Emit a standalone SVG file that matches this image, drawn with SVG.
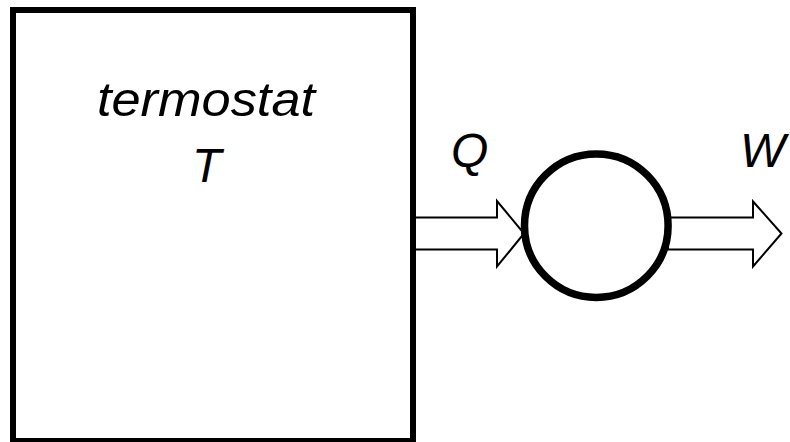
<svg xmlns="http://www.w3.org/2000/svg" width="790" height="442" viewBox="0 0 790 442">
<style>
.lbl{font-family:"Liberation Sans",Arial,sans-serif;font-style:italic;font-size:48px;fill:#000}
.arr{fill:#fff;stroke:#000;stroke-width:2;stroke-linejoin:miter}
</style>
<rect x="0" y="0" width="790" height="442" fill="#fff"/>
<g id="connectors">
<polygon class="arr" points="413,217.5 497,217.5 497,201 524,233.5 497,266.5 497,249.5 413,249.5"/>
<polygon class="arr" points="668,217.5 753,217.5 753,201.5 781.5,233.5 753,266.5 753,249.5 668,249.5"/>
</g>
<g id="thermostat">
<rect x="13" y="10" width="400" height="431" fill="none" stroke="#000" stroke-width="6"/>
<text class="lbl" x="97" y="116" textLength="218" lengthAdjust="spacingAndGlyphs">termostat</text>
<text class="lbl" x="192" y="182">T</text>
</g>
<g id="engine">
<circle cx="596.3" cy="225.7" r="71.8" fill="#fff" stroke="#000" stroke-width="7.5"/>
</g>
<g id="labels">
<text class="lbl" x="451" y="167">Q</text>
<text class="lbl" x="740" y="167">W</text>
</g>
</svg>
